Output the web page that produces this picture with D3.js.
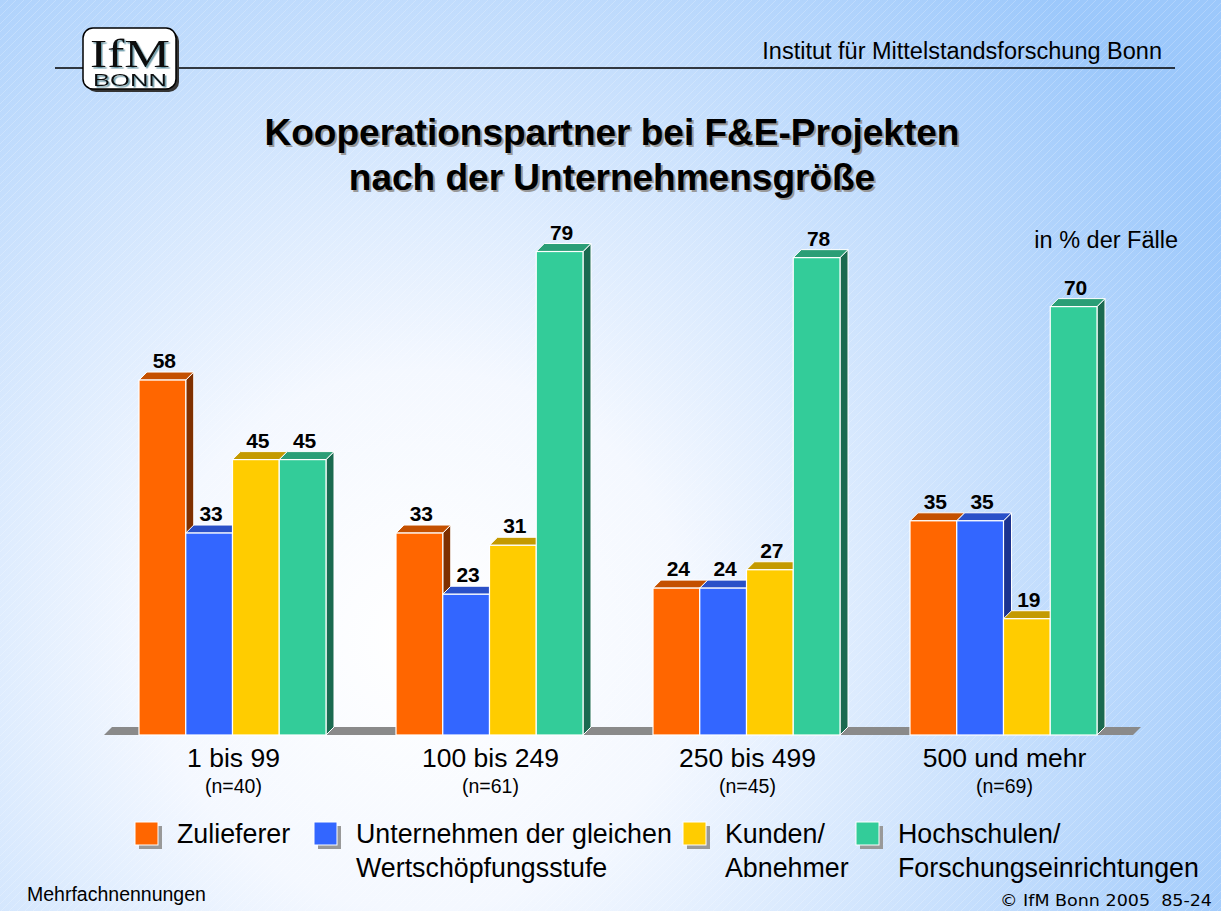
<!DOCTYPE html>
<html>
<head>
<meta charset="utf-8">
<script src="https://cdn.jsdelivr.net/npm/d3@7"></script>
<style>
  html, body { margin: 0; padding: 0; }
  body { width: 1221px; height: 911px; overflow: hidden; }
  text { font-family: "Liberation Sans", Arial, sans-serif; }
</style>
</head>
<body>
<svg id="chart" width="1221" height="911"></svg>
<script>
// data
const categories = ['1 bis 99', '100 bis 249', '250 bis 499', '500 und mehr']
const sampleSizes = ['(n=40)', '(n=61)', '(n=45)', '(n=69)']
const series = ['Zulieferer', 'Unternehmen der gleichen Wertschöpfungsstufe', 'Kunden/ Abnehmer', 'Hochschulen/ Forschungseinrichtungen']
const zulieferer = [58, 33, 24, 35]
const unternehmen = [33, 23, 24, 35]
const kunden = [45, 31, 27, 19]
const hochschulen = [45, 79, 78, 70]
const values = [zulieferer, unternehmen, kunden, hochschulen]
const legendLines = [['Zulieferer'], ['Unternehmen der gleichen', 'Wertschöpfungsstufe'], ['Kunden/', 'Abnehmer'], ['Hochschulen/', 'Forschungseinrichtungen']]

const colors = ['#FF6600', '#3366FF', '#FFCC00', '#33CC99']
const topColors = ['#C45000', '#2A50C8', '#C49A00', '#2A9E76']
const sideColors = ['#7F3000', '#1C3390', '#806600', '#1A6A50']

const W = 1221, H = 911
const svg = d3.select('#chart')
const defs = svg.append('defs')

// background
const bg = defs.append('radialGradient').attr('id', 'bg')
    .attr('gradientUnits', 'userSpaceOnUse')
    .attr('cx', 420).attr('cy', 640).attr('r', 900)
bg.append('stop').attr('offset', '0').attr('stop-color', '#ffffff')
bg.append('stop').attr('offset', '0.3').attr('stop-color', '#f4f8ff')
bg.append('stop').attr('offset', '1').attr('stop-color', '#9cc8fb')
svg.append('rect').attr('width', W).attr('height', H).attr('fill', 'url(#bg)')

const hatch = defs.append('pattern').attr('id', 'hatch')
    .attr('patternUnits', 'userSpaceOnUse').attr('width', 8).attr('height', 8)
hatch.append('path').attr('d', 'M0,8 L8,0').attr('stroke', '#ffffff').attr('stroke-width', 0.6).attr('opacity', 0.35)
svg.append('rect').attr('width', W).attr('height', H).attr('fill', 'url(#hatch)')

// logo shadow filter
const sh = defs.append('filter').attr('id', 'logoShadow')
sh.append('feDropShadow').attr('dx', 1.5).attr('dy', 1.5).attr('stdDeviation', 0)
    .attr('flood-color', '#6a9aa8')

// header
svg.append('line').attr('x1', 55).attr('x2', 1175).attr('y1', 68).attr('y2', 68)
    .attr('stroke', '#000').attr('stroke-width', 1.5)
svg.append('text').attr('x', 1162).attr('y', 59).attr('text-anchor', 'end')
    .attr('font-size', 23.5).text('Institut für Mittelstandsforschung Bonn')

// logo
const logo = svg.append('g')
logo.append('rect').attr('x', 86).attr('y', 31).attr('width', 93).attr('height', 61).attr('rx', 10)
    .attr('fill', '#333')
logo.append('rect').attr('x', 83).attr('y', 28).attr('width', 93).attr('height', 61).attr('rx', 10)
    .attr('fill', '#fff').attr('stroke', '#000').attr('stroke-width', 1.5)
const logoText = logo.append('text').attr('text-anchor', 'middle').attr('fill', '#111')
    .attr('filter', 'url(#logoShadow)')
logoText.append('tspan').attr('x', 130).attr('y', 66.5)
    .style('font-family', '"Liberation Serif", serif').attr('font-size', 40)
    .attr('textLength', 80).attr('lengthAdjust', 'spacingAndGlyphs').text('IfM')
logoText.append('tspan').attr('x', 130).attr('y', 86)
    .attr('font-size', 17).attr('textLength', 74).attr('lengthAdjust', 'spacingAndGlyphs').text('BONN')

// title
const titleLines = ['Kooperationspartner bei F&E-Projekten', 'nach der Unternehmensgröße']
titleLines.forEach((t, i) => {
    svg.append('text').attr('x', 614).attr('y', 147 + i * 45).attr('text-anchor', 'middle')
        .attr('font-size', 37).attr('font-weight', 'bold').attr('fill', '#999').text(t)
    svg.append('text').attr('x', 612).attr('y', 145 + i * 45).attr('text-anchor', 'middle')
        .attr('font-size', 37).attr('font-weight', 'bold').attr('fill', '#000').text(t)
})
svg.append('text').attr('x', 1178).attr('y', 248).attr('text-anchor', 'end')
    .attr('font-size', 23.5).text('in % der Fälle')

// scales
const x0 = d3.scaleBand().domain(categories).range([104, 1132]).padding(0)
const x1 = d3.scaleBand().domain(d3.range(series.length)).range([35, 222]).padding(0)
const y = d3.scaleLinear().domain([0, 100]).range([735, 123])
const dx = 8, dy = 8

// floor
const fl = x0.range()[0], fr = x0.range()[1] + 1
svg.append('path')
    .attr('d', `M${fl},${y(0)} L${fr},${y(0)} L${fr + dx},${y(0) - dy} L${fl + dx},${y(0) - dy} Z`)
    .attr('fill', '#8a8a8a')

// bars
const groups = svg.append('g').selectAll('g').data(categories).join('g')
    .attr('transform', d => `translate(${x0(d)},0)`)

groups.each(function (cat, gi) {
    const g = d3.select(this)
    values.forEach((vals, si) => {
        const v = vals[gi]
        const bx = x1(si), bw = x1.bandwidth()
        const top = y(v), base = y(0)
        // side face
        g.append('path')
            .attr('d', `M${bx + bw},${top} L${bx + bw + dx},${top - dy} L${bx + bw + dx},${base - dy} L${bx + bw},${base} Z`)
            .attr('fill', sideColors[si]).attr('stroke', '#fff').attr('stroke-width', 1)
        // top face
        g.append('path')
            .attr('d', `M${bx},${top} L${bx + dx},${top - dy} L${bx + bw + dx},${top - dy} L${bx + bw},${top} Z`)
            .attr('fill', topColors[si]).attr('stroke', '#fff').attr('stroke-width', 1)
        // front face
        g.append('rect').attr('x', bx).attr('y', top).attr('width', bw).attr('height', base - top)
            .attr('fill', colors[si]).attr('stroke', '#fff').attr('stroke-width', 1.2)
        g.append('text').attr('x', bx + bw / 2 + 2).attr('y', top - 12)
            .attr('text-anchor', 'middle').attr('font-size', 21).attr('font-weight', 'bold').text(v)
    })
    g.append('text').attr('x', x0.bandwidth() / 2 + 1).attr('y', 767).attr('text-anchor', 'middle')
        .attr('font-size', 26.5).text(cat)
    g.append('text').attr('x', x0.bandwidth() / 2 + 1).attr('y', 793).attr('text-anchor', 'middle')
        .attr('font-size', 19.5).text(sampleSizes[gi])
})

// legend
const legendX = [135, 314, 683, 856]
series.forEach((s, i) => {
    const lx = legendX[i], ly = 822
    svg.append('rect').attr('x', lx + 4).attr('y', ly + 4).attr('width', 23).attr('height', 23).attr('fill', '#999')
    svg.append('rect').attr('x', lx).attr('y', ly).attr('width', 23).attr('height', 23)
        .attr('fill', colors[i]).attr('stroke', '#fff').attr('stroke-width', 1)
    legendLines[i].forEach((t, j) => {
        svg.append('text').attr('x', lx + 42).attr('y', ly + 21 + j * 34).attr('font-size', 26.8).text(t)
    })
})

// footer
svg.append('text').attr('x', 27).attr('y', 901).attr('font-size', 19.5).text('Mehrfachnennungen')
svg.append('text').attr('x', 1212).attr('y', 906).attr('text-anchor', 'end')
    .style('font-family', '"DejaVu Sans", sans-serif').attr('font-size', 16)
    .attr('textLength', 212).attr('lengthAdjust', 'spacingAndGlyphs').attr('xml:space', 'preserve')
    .text('© IfM Bonn 2005  85-24')
</script>
</body>
</html>
